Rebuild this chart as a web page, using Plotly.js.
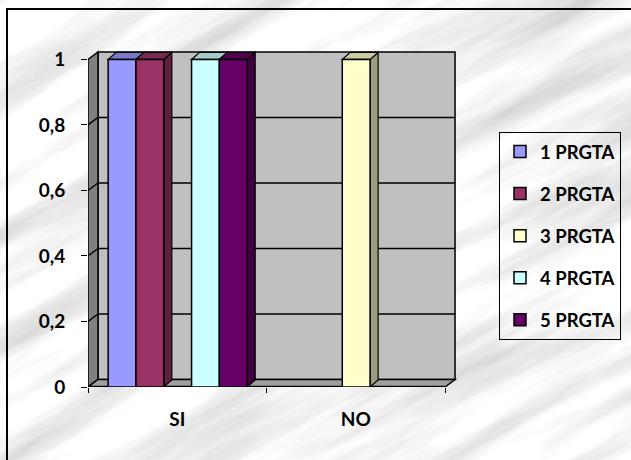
<!DOCTYPE html>
<html>
<head>
<meta charset="utf-8">
<script src="https://cdn.plot.ly/plotly-3.0.1.min.js"></script>
<style>
  html, body { margin: 0; padding: 0; }
  body { width: 631px; height: 460px; overflow: hidden; background-color: #ececec; }
  #chart { width: 631px; height: 460px; }
</style>
</head>
<body>
<div id="chart"></div>
<script>
// Categories, series and tick labels
const categories = ['SI', 'NO'];
const seriesNames = ['1 PRGTA', '2 PRGTA', '3 PRGTA', '4 PRGTA', '5 PRGTA'];
const prgta1 = [1, 0];
const prgta2 = [1, 0];
const prgta3 = [0, 1];
const prgta4 = [1, 0];
const prgta5 = [1, 0];
const yTickVals = [0, 0.2, 0.4, 0.6, 0.8, 1];
const yTickText = ['0', '0,2', '0,4', '0,6', '0,8', '1'];

// Styling
const seriesValues = [prgta1, prgta2, prgta3, prgta4, prgta5];
const frontColors = ['#9999FF', '#993366', '#FFFFCC', '#CCFFFF', '#660066'];
const FONT = { family: 'Lato, "Liberation Sans", sans-serif', size: 19, color: '#000', weight: 700 };
const LEGEND_FONT = Object.assign({}, FONT, { size: 18.5 });

// Marble-like page backdrop
(function () {
  const svg = "<svg xmlns='http://www.w3.org/2000/svg' width='631' height='460'>" +
    "<filter id='m' x='0' y='0' width='100%' height='100%'>" +
    "<feTurbulence type='fractalNoise' baseFrequency='0.004 0.03' numOctaves='5' seed='11'/>" +
    "<feColorMatrix type='matrix' values='0.7 0 0 0 0.58  0.7 0 0 0 0.58  0.7 0 0 0 0.58  0 0 0 0 1'/>" +
    "</filter>" +
    "<g transform='rotate(-28 315 230)'><rect x='-300' y='-300' width='1300' height='1100' filter='url(#m)'/></g>" +
    "</svg>";
  document.body.style.backgroundImage = 'url("data:image/svg+xml;charset=utf-8,' + encodeURIComponent(svg) + '")';
})();

// Geometry in axis units
const barW = 0.1557;          // width of one bar
const groupStart = -0.387;    // left edge of first bar relative to category centre
const dxBar = 0.045, dyBar = 0.0215;   // bar depth projection
const dxWall = 0.056, dyWall = 0.0229; // wall depth projection
const xMin = -0.5, xMax = categories.length - 0.5;

function shade(hex, f) {
  const n = parseInt(hex.slice(1), 16);
  const r = Math.round(((n >> 16) & 255) * f), g = Math.round(((n >> 8) & 255) * f), b = Math.round((n & 255) * f);
  return 'rgb(' + r + ',' + g + ',' + b + ')';
}

const xIdx = categories.map((_, i) => i);

const traces = seriesValues.map((vals, k) => ({
  type: 'bar',
  name: seriesNames[k],
  x: xIdx,
  y: vals,
  offset: groupStart + k * barW,
  width: barW,
  legendgroup: 'g' + k,
  marker: { color: frontColors[k], line: { color: '#000', width: 1.5 } },
  hoverinfo: 'skip'
}));

const shapes = [];
const blackLine = { color: '#000', width: 1.5 };

// back wall
shapes.push({ type: 'rect', xref: 'x', yref: 'y', layer: 'below',
  x0: xMin + dxWall, x1: xMax + dxWall, y0: dyWall, y1: 1 + dyWall,
  fillcolor: '#C0C0C0', line: blackLine });
// left side wall
shapes.push({ type: 'path', xref: 'x', yref: 'y', layer: 'below',
  path: `M${xMin},0 L${xMin},1 L${xMin + dxWall},${1 + dyWall} L${xMin + dxWall},${dyWall} Z`,
  fillcolor: '#808080', line: blackLine });
// floor
shapes.push({ type: 'path', xref: 'x', yref: 'y', layer: 'below',
  path: `M${xMin},0 L${xMax},0 L${xMax + dxWall},${dyWall} L${xMin + dxWall},${dyWall} Z`,
  fillcolor: '#A0A0A0', line: blackLine });
shapes.push({ type: 'line', xref: 'x', yref: 'y', layer: 'below',
  x0: xMin, x1: xMax, y0: 0, y1: 0, line: { color: '#000', width: 2.5 } });
// gridlines across the walls
yTickVals.filter(t => t > 0 && t < 1).forEach(t => {
  shapes.push({ type: 'line', xref: 'x', yref: 'y', layer: 'below',
    x0: xMin + dxWall, x1: xMax + dxWall, y0: t + dyWall, y1: t + dyWall, line: blackLine });
  shapes.push({ type: 'line', xref: 'x', yref: 'y', layer: 'below',
    x0: xMin, x1: xMin + dxWall, y0: t, y1: t + dyWall, line: blackLine });
});

// top and side faces of the bars
seriesValues.forEach((vals, k) => {
  vals.forEach((v, i) => {
    if (!(v > 0)) return;
    const l = i + groupStart + k * barW, r = l + barW;
    shapes.push({ type: 'path', xref: 'x', yref: 'y', layer: 'below',
      path: `M${r},0 L${r},${v} L${r + dxBar},${v + dyBar} L${r + dxBar},${dyBar} Z`,
      fillcolor: shade(frontColors[k], 0.62), line: { color: '#000', width: 1.2 } });
    shapes.push({ type: 'path', xref: 'x', yref: 'y', layer: 'below',
      path: `M${l},${v} L${r},${v} L${r + dxBar},${v + dyBar} L${l + dxBar},${v + dyBar} Z`,
      fillcolor: shade(frontColors[k], 0.8), line: { color: '#000', width: 1.2 } });
  });
});

// outer chart border
shapes.push({ type: 'rect', xref: 'paper', yref: 'paper', layer: 'above',
  x0: (7 - 88) / 369, x1: 1.6, y0: -0.3, y1: (387 - 9) / 337,
  line: { color: '#000', width: 2 }, fillcolor: 'rgba(0,0,0,0)' });

const layout = {
  width: 631, height: 460,
  margin: { l: 88, r: 174, t: 50, b: 73, autoexpand: false },
  paper_bgcolor: 'rgba(0,0,0,0)',
  plot_bgcolor: 'rgba(0,0,0,0)',
  font: FONT,
  barmode: 'overlay',
  showlegend: true,
  xaxis: {
    type: 'linear',
    range: [xMin, xMax + dxWall + 0.011],
    tickvals: xIdx, ticktext: categories,
    ticks: '', showgrid: false, zeroline: false, showline: false,
    ticklabelstandoff: 19,
    tickfont: FONT,
    minor: { tickvals: [-0.5, 0.5, 1.5], ticks: 'outside', ticklen: 5, tickwidth: 1, tickcolor: '#000', showgrid: false },
    fixedrange: true
  },
  yaxis: {
    range: [0, 1 + dyWall + 0.006],
    tickvals: yTickVals, ticktext: yTickText,
    ticks: 'outside', ticklen: 6, tickwidth: 1, tickcolor: '#000',
    showgrid: false, zeroline: false, showline: false,
    ticklabelstandoff: 12,
    tickfont: FONT,
    fixedrange: true
  },
  legend: {
    x: (499 - 88) / 369, xanchor: 'left',
    y: (387 - 132) / 337, yanchor: 'top',
    bordercolor: '#000', borderwidth: 1, bgcolor: 'rgba(0,0,0,0)',
    font: LEGEND_FONT, tracegroupgap: 15, itemwidth: 30, traceorder: 'grouped'
  },
  shapes: shapes
};

Plotly.newPlot('chart', traces, layout, { displayModeBar: false, staticPlot: true });
</script>
</body>
</html>
